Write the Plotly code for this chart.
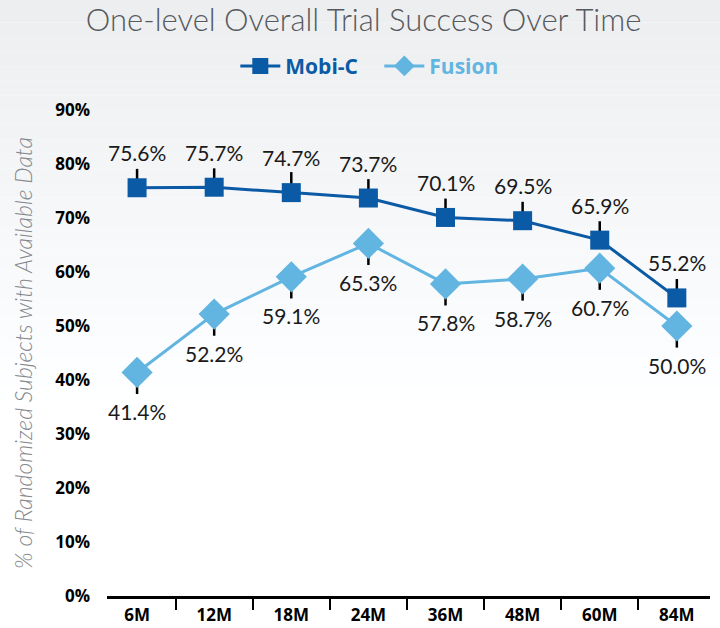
import plotly.graph_objects as go

# data
months = ["6M", "12M", "18M", "24M", "36M", "48M", "60M", "84M"]
mobi_c = [0.756, 0.757, 0.747, 0.737, 0.701, 0.695, 0.659, 0.552]
fusion = [0.414, 0.522, 0.591, 0.653, 0.578, 0.587, 0.607, 0.500]
mobi_err = [0.035, 0.035, 0.038, 0.035, 0.035, 0.035, 0.035, 0.035]
fusion_err = [0.04, 0.04, 0.04, 0.04, 0.04, 0.04, 0.04, 0.04]
y_ticks = [0, 0.1, 0.2, 0.3, 0.4, 0.5, 0.6, 0.7, 0.8, 0.9]

DARK = "#0b5aa5"
LIGHT = "#62b5e1"
LABEL_FONT = dict(family="Lato", size=21, color="#1a1a1a")

fig = go.Figure()

fig.add_trace(go.Scatter(
    x=months, y=mobi_c, mode="lines+markers",
    name=f"<span style='color:{DARK}'>Mobi-C&nbsp;&nbsp;&nbsp;</span>",
    line=dict(color=DARK, width=3),
    marker=dict(symbol="square", size=19, color=DARK),
    error_y=dict(type="data", symmetric=False, array=mobi_err,
                 arrayminus=[0] * len(months), color="black",
                 thickness=2.5, width=0),
))
fig.add_trace(go.Scatter(
    x=months, y=fusion, mode="lines+markers",
    name=f"<span style='color:{LIGHT}'>Fusion</span>",
    line=dict(color=LIGHT, width=3),
    marker=dict(symbol="diamond", size=24, color=LIGHT),
    error_y=dict(type="data", symmetric=False, array=[0] * len(months),
                 arrayminus=fusion_err, color="black",
                 thickness=2.5, width=0),
))

# value labels
for m, v in zip(months, mobi_c):
    fig.add_annotation(x=m, y=v, text=f"{v*100:.1f}%", showarrow=False,
                       yshift=35, font=LABEL_FONT)
for m, v in zip(months, fusion):
    fig.add_annotation(x=m, y=v, text=f"{v*100:.1f}%", showarrow=False,
                       yshift=-39, font=LABEL_FONT)

# soft grey-to-white background fade at the top
n = 30
for i in range(n):
    t = i / n
    c = int(236 + (255 - 236) * t)
    fig.add_shape(type="rect", xref="paper", yref="paper",
                  x0=-0.2, x1=1.05, y0=1.3 - (i + 1) * 0.03, y1=1.3 - i * 0.03,
                  fillcolor=f"rgb({c},{c+1},{min(c+3,255)})", line_width=0,
                  layer="below")

fig.update_layout(
    width=720, height=628,
    margin=dict(l=107, r=10, t=110, b=32),
    paper_bgcolor="white", plot_bgcolor="rgba(0,0,0,0)",
    title=dict(text="One-level Overall Trial Success Over Time",
               x=0.505, xanchor="center", y=0.968, yanchor="middle",
               font=dict(family="Lato", size=31, color="#55595e", weight=300)),
    legend=dict(orientation="h", x=0.435, xanchor="center", y=1.09,
                yanchor="middle", bgcolor="rgba(0,0,0,0)",
                font=dict(family="Open Sans", size=21, weight="bold"),
                itemwidth=40, tracegroupgap=0),
    showlegend=True,
)

fig.update_xaxes(
    type="category", range=[-0.39, 7.43],
    showline=True, linecolor="black", linewidth=2.5,
    ticks="outside", tickson="boundaries", ticklen=11, tickwidth=2,
    tickcolor="black", showgrid=False, automargin=False,
    ticklabelstandoff=2,
    tickfont=dict(family="Open Sans", size=17, color="black", weight="bold"),
)
fig.update_yaxes(
    range=[0, 0.9], tickvals=y_ticks, tickformat=".0%",
    showgrid=False, zeroline=False, showline=False, automargin=False,
    ticks="", ticklabelstandoff=16,
    tickfont=dict(family="Open Sans", size=17, color="black", weight="bold"),
    title=dict(text="% of Randomized Subjects with Available Data",
               standoff=16,
               font=dict(family="Lato", size=23, color="#85888c",
                         style="italic", weight=300)),
)

# drop the browser's default page margin so the figure sits at 0,0
fig.write_html("out.html", config={"displayModeBar": False},
               post_script="document.body.style.margin='0';"
                           "document.body.style.overflow='hidden';")
